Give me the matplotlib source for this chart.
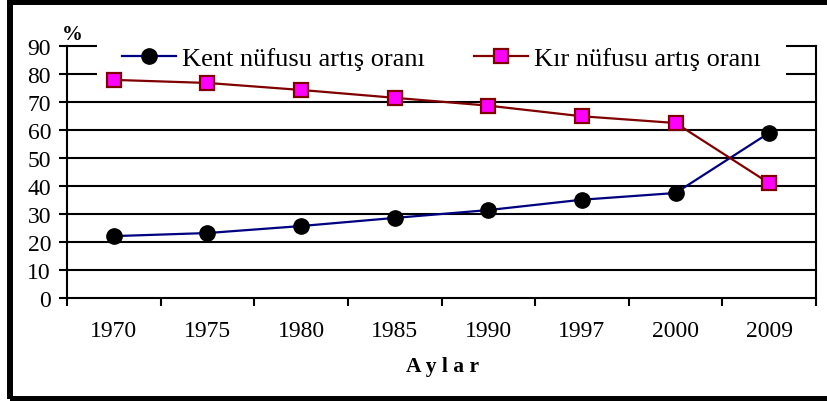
import numpy as np
import matplotlib
matplotlib.use("Agg")
import matplotlib.pyplot as plt
from matplotlib.patches import Rectangle

plt.rcParams['font.family'] = ['Liberation Serif', 'DejaVu Serif']

years = ['1970', '1975', '1980', '1985', '1990', '1997', '2000', '2009']
kent = [22.1, 23.2, 25.7, 28.6, 31.4, 35.1, 37.5, 59.0]
kir = [77.9, 76.8, 74.3, 71.5, 68.7, 64.9, 62.5, 41.0]
yticks = [0, 10, 20, 30, 40, 50, 60, 70, 80, 90]

W, H = 827, 402
fig = plt.figure(figsize=(W/100, H/100), dpi=100)
ax = fig.add_axes([67/W, (H-299)/H, (816-67)/W, (299-47)/H])

x = np.arange(len(years))

# yatay cizgiler
for v in yticks[1:]:
    ax.axhline(v, color='black', lw=1.5, zorder=1, clip_on=False)

ax.plot(x, kent, color='#000080', lw=1.6, marker='o', markersize=11,
        markerfacecolor='black', markeredgecolor='black', zorder=4,
        label='Kent nüfusu artış oranı')
ax.plot(x, kir, color='#800000', lw=1.6, marker='s', markersize=9.5,
        markerfacecolor='#FF00FF', markeredgecolor='#800000', markeredgewidth=1.6,
        zorder=4, label='Kır nüfusu artış oranı')

ax.set_xlim(-0.5, len(years) - 0.5)
ax.set_ylim(0, 90)
ax.set_yticks(yticks)
ax.set_yticklabels([str(v) for v in yticks], fontsize=17)
ax.set_xticks(np.arange(len(years) + 1) - 0.5)
ax.set_xticklabels([])
ax.set_xticks(x, minor=True)
ax.set_xticklabels(years, minor=True, fontsize=17)
ax.tick_params(axis='x', which='major', direction='out', length=6, width=1.5)
ax.tick_params(axis='x', which='minor', length=0, pad=16)
ax.tick_params(axis='y', direction='out', length=5.5, width=1.5, pad=6)

ax.spines['top'].set_visible(False)
for s in ['left', 'right', 'bottom']:
    ax.spines[s].set_linewidth(1.5)
ax.spines['left'].set_bounds(0, 90)
ax.spines['right'].set_bounds(0, 90)

# legend kutusu (beyaz, cercevesiz)
lx0 = (97 - 67) / (816 - 67)
lx1 = (786 - 67) / (816 - 67)
lyc = (299 - 59) / (299 - 47)
leg = ax.legend(loc='center left', bbox_to_anchor=(lx0, lyc, lx1 - lx0, 0),
                mode='expand', ncol=2, fontsize=19, frameon=True, fancybox=False,
                facecolor='white', edgecolor='none', framealpha=1,
                borderaxespad=0, handlelength=2.05, handletextpad=0.23,
                borderpad=0.95)
leg.set_zorder(2)

fig.text(72/W, (H-35)/H, '%', fontsize=15, fontweight='bold', ha='center', va='center')
fig.text(443/W, (H-367)/H, 'A y l a r', fontsize=15.5, fontweight='bold',
         ha='center', va='center')

fig.patches.append(Rectangle((10/W, 2.0/H), 1.2, (H-4.5)/H, transform=fig.transFigure,
                             fill=False, edgecolor='black', lw=4.3))

fig.savefig('out.png', dpi=100)
